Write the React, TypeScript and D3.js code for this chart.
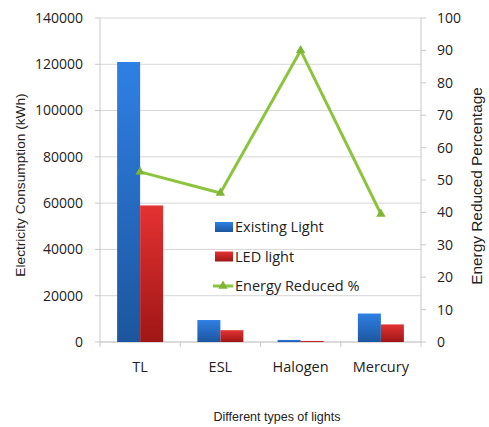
import React from "react";
import * as d3 from "d3";

const categories = ["TL", "ESL", "Halogen", "Mercury"];
const existingLight = [121000, 9500, 900, 12300];
const ledLight = [59000, 5100, 450, 7600];
const energyReduced = [52.5, 46, 90, 39.5];
const leftTicks = [0, 20000, 40000, 60000, 80000, 100000, 120000, 140000];
const rightTicks = [0, 10, 20, 30, 40, 50, 60, 70, 80, 90, 100];
const seriesNames = ["Existing Light", "LED light", "Energy Reduced %"];

const W = 489;
const H = 427;
const plot = { left: 100, right: 421, top: 18, bottom: 342 };
const tickFont = "'Open Sans', 'Noto Sans', sans-serif";
const titleFont = "'Liberation Sans', Arial, sans-serif";
const green = "#8cc43e";

export default function App() {
  const x = d3
    .scaleBand<string>()
    .domain(categories)
    .range([plot.left, plot.right])
    .paddingInner(0)
    .paddingOuter(0);
  const inner = d3
    .scaleBand<string>()
    .domain(["existing", "led"])
    .range([0, x.bandwidth()])
    .paddingInner(0)
    .paddingOuter(0.745);
  const yL = d3.scaleLinear().domain([0, 140000]).range([plot.bottom, plot.top]);
  const yR = d3.scaleLinear().domain([0, 100]).range([plot.bottom, plot.top]);

  const line = d3
    .line<number>()
    .x((_, i) => (x(categories[i]) as number) + x.bandwidth() / 2)
    .y((d) => yR(d));

  const tri = d3.symbol().type(d3.symbolTriangle).size(38);

  const legendX = 215;
  const legendY = [227, 256.5, 286];

  return (
    <svg width={W} height={H} style={{ position: "absolute", left: 0, top: 0, background: "#fff" }}>
      <defs>
        <linearGradient id="gBlue" x1="0" y1="0" x2="0" y2="1">
          <stop offset="0" stopColor="#2f80e4" />
          <stop offset="1" stopColor="#1c569e" />
        </linearGradient>
        <linearGradient id="gRed" x1="0" y1="0" x2="0" y2="1">
          <stop offset="0" stopColor="#e43232" />
          <stop offset="1" stopColor="#a01616" />
        </linearGradient>
      </defs>

      {/* horizontal gridlines */}
      {leftTicks.map((t) => (
        <line key={"g" + t} x1={plot.left} x2={plot.right} y1={yL(t)} y2={yL(t)} stroke="#d6d6d6" strokeWidth={1} />
      ))}

      {/* left axis */}
      <line x1={plot.left} x2={plot.left} y1={plot.top} y2={plot.bottom} stroke="#c8c8c8" />
      {leftTicks.map((t) => (
        <g key={"lt" + t}>
          <line x1={plot.left - 5} x2={plot.left} y1={yL(t)} y2={yL(t)} stroke="#c8c8c8" />
          <text x={83} y={yL(t)} dy="0.35em" textAnchor="end" fontFamily={tickFont} fontSize={14} fill="#222">
            {t}
          </text>
        </g>
      ))}

      {/* right axis */}
      <line x1={plot.right} x2={plot.right} y1={plot.top} y2={plot.bottom} stroke="#c8c8c8" />
      {rightTicks.map((t) => (
        <g key={"rt" + t}>
          <line x1={plot.right} x2={plot.right + 5} y1={yR(t)} y2={yR(t)} stroke="#c8c8c8" />
          <text x={437} y={yR(t)} dy="0.35em" textAnchor="start" fontFamily={tickFont} fontSize={14} fill="#222">
            {t}
          </text>
        </g>
      ))}

      {/* category axis */}
      <line x1={plot.left} x2={plot.right} y1={plot.bottom} y2={plot.bottom} stroke="#c8c8c8" />
      {categories.concat(["end"]).map((c, i) => {
        const xx = plot.left + i * x.bandwidth();
        return <line key={"ct" + i} x1={xx} x2={xx} y1={plot.bottom} y2={plot.bottom + 5} stroke="#c8c8c8" />;
      })}
      {categories.map((c) => (
        <text
          key={"cl" + c}
          x={(x(c) as number) + x.bandwidth() / 2}
          y={367}
          dy="0.35em"
          textAnchor="middle"
          fontFamily={tickFont}
          fontSize={14.5}
          fill="#222"
        >
          {c}
        </text>
      ))}

      {/* bars */}
      {categories.map((c, i) => (
        <g key={"b" + c} transform={`translate(${x(c)},0)`}>
          <rect
            x={inner("existing")}
            y={yL(existingLight[i])}
            width={inner.bandwidth()}
            height={plot.bottom - yL(existingLight[i])}
            fill="url(#gBlue)"
          />
          <rect
            x={inner("led")}
            y={yL(ledLight[i])}
            width={inner.bandwidth()}
            height={plot.bottom - yL(ledLight[i])}
            fill="url(#gRed)"
          />
        </g>
      ))}

      {/* energy reduced line */}
      <path d={line(energyReduced) as string} fill="none" stroke={green} strokeWidth={3} strokeLinejoin="round" />
      {energyReduced.map((v, i) => (
        <path
          key={"m" + i}
          d={tri() as string}
          transform={`translate(${(x(categories[i]) as number) + x.bandwidth() / 2},${yR(v)})`}
          fill="#7fb536"
        />
      ))}

      {/* legend */}
      <rect x={legendX} y={legendY[0] - 5} width={18} height={10} fill="url(#gBlue)" />
      <rect x={legendX} y={legendY[1] - 5} width={18} height={10} fill="url(#gRed)" />
      <line x1={legendX - 2} x2={legendX + 18} y1={legendY[2]} y2={legendY[2]} stroke={green} strokeWidth={3} />
      <path d={tri() as string} transform={`translate(${legendX + 8},${legendY[2]})`} fill="#7fb536" />
      {seriesNames.map((s, i) => (
        <text
          key={"lg" + s}
          x={legendX + 20}
          y={legendY[i]}
          dy="0.35em"
          fontFamily={tickFont}
          fontSize={14.5}
          fill="#222"
        >
          {s}
        </text>
      ))}

      {/* axis titles */}
      <text
        transform="translate(20,185) rotate(-90)"
        textAnchor="middle"
        dy="0.35em"
        fontFamily={titleFont}
        fontSize={13.7}
        fill="#222"
      >
        Electricity Consumption (kWh)
      </text>
      <text
        transform="translate(477,186) rotate(-90)"
        textAnchor="middle"
        dy="0.35em"
        fontFamily={titleFont}
        fontSize={15.4}
        fill="#222"
      >
        Energy Reduced Percentage
      </text>
      <text x={277} y={417} dy="0.35em" textAnchor="middle" fontFamily={titleFont} fontSize={12.5} fill="#222">
        Different types of lights
      </text>
    </svg>
  );
}
